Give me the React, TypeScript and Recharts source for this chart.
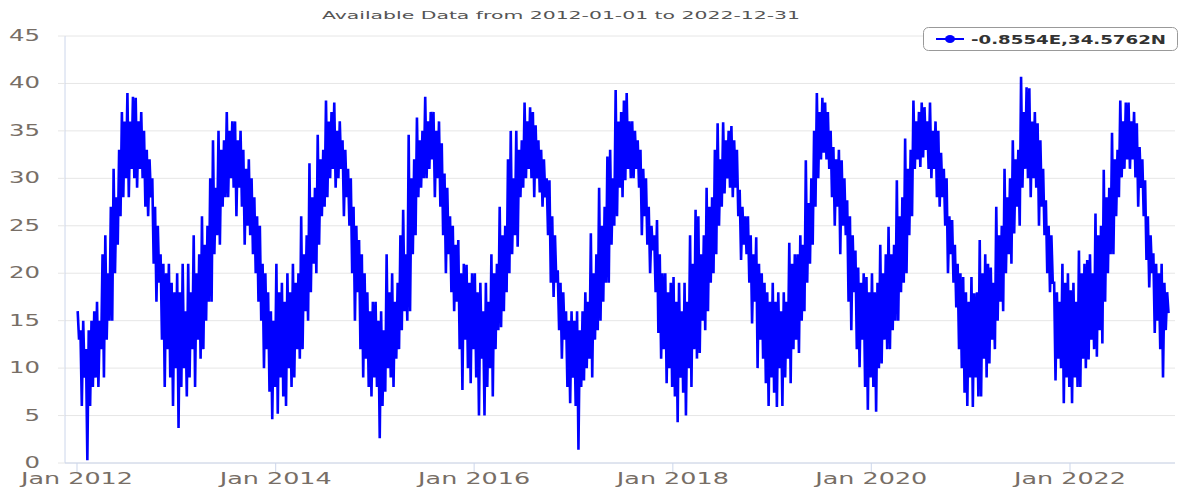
import React from "react";
import { LineChart, Line, XAxis, YAxis, CartesianGrid } from "recharts";

// values: 6 samples per month (Jan..Dec), alternating highs and lows
const years = [2012, 2013, 2014, 2015, 2016, 2017, 2018, 2019, 2020, 2021, 2022];

const y2012 = [
  16, 13, 14, 6, 15, 9, 12, 0.3, 14, 6, 15, 8, 16, 9, 17, 8, 15, 12, 22, 9, 24, 13, 20, 15,
  27, 15, 31, 20, 28, 23, 33, 26, 37, 28, 36, 30, 39, 28, 36, 31, 38.6, 30, 38.5, 29, 36, 31, 37, 30,
  35, 27, 33, 26, 32, 28, 30, 21, 27, 17, 25, 19, 22, 13, 21, 8, 20, 12, 21, 9, 19, 6, 18, 10,
];
const y2013 = [
  20, 3.7, 18, 8, 21, 10, 16, 7, 21, 9, 18, 12, 24, 8, 20, 13, 22, 11, 26, 12, 23, 15, 25, 17,
  30, 17, 34, 22, 29, 24, 35, 23, 33, 27, 34, 28, 37, 28, 35, 30, 36, 29, 36, 26, 34, 29, 35, 27,
  33, 23, 31, 25, 32, 24, 30, 22, 28, 20, 26, 17, 25, 15, 21, 10, 20, 12, 18, 7.5, 16, 4.6, 15, 8,
];
const y2014 = [
  21, 5.2, 18, 9, 19, 7, 17, 6, 20, 10, 18, 8, 21, 9, 19, 12, 20, 11, 26, 12, 22, 16, 24, 15,
  31.6, 18, 28, 21, 29, 20, 34.6, 23, 32, 26, 33, 27, 38.2, 28, 36, 30, 37, 31, 38, 29, 35, 30, 36, 31,
  34, 26, 33, 28, 31, 25, 30, 20, 27, 15, 25, 18, 23.5, 12, 22, 9, 20, 11, 18, 8, 16, 7, 17, 9,
];
const y2015 = [
  17, 8, 15, 2.6, 16, 6, 14, 7.5, 22, 10, 18, 9, 20, 8, 17, 11, 19, 12, 24, 14, 26.7, 16, 22, 15,
  34.6, 16, 30, 22, 32, 24, 36.4, 28, 34, 29, 35, 30, 38.6, 30, 36, 31, 37, 32, 37, 28, 35, 30, 36, 27,
  33.7, 24, 30.5, 20, 29, 22, 26, 18, 25, 16, 23, 17, 23.5, 12, 20, 7.7, 21, 13, 20.9, 10, 19, 8.4, 20, 12,
];
const y2016 = [
  20, 9, 18, 5, 19, 11, 16, 5, 19, 8, 17, 10, 22, 7, 20, 12, 21, 14, 27, 14.3, 24, 16, 25, 18,
  32, 20, 35, 22, 30, 24, 35, 22.8, 33, 28, 34, 29, 38, 30, 36, 31, 37.5, 30, 37, 28, 35.6, 30, 34, 28.5,
  33, 27, 32, 28, 30, 24, 29.8, 19, 26, 17.5, 24, 19, 20.3, 14, 19, 11, 18, 13, 16, 8, 15, 6.3, 16, 9,
];
const y2017 = [
  15, 6, 16, 1.4, 14, 8, 16, 8.7, 18, 10, 17, 11, 24.2, 9, 20, 13, 22, 14, 29, 15, 25, 17, 27, 19,
  32.3, 19, 33, 23, 30, 25, 39.3, 26, 36, 29, 37, 28, 38.2, 29.8, 39, 31, 36, 30, 36, 30, 35, 31, 34, 29,
  33, 24, 31, 26, 30, 23, 27, 20, 25, 22.4, 24, 18, 25.6, 13.7, 22, 11, 20, 12, 20, 8.4, 18, 10, 19, 8,
];
const y2018 = [
  19.6, 7, 17, 4.3, 19, 9, 16, 7.4, 19, 5, 17, 10, 24, 8, 21, 12, 26.7, 11, 26, 11.6, 22, 15, 24, 14,
  29, 16, 27, 19, 28, 20, 33, 22, 35.8, 25, 32, 27, 35.9, 28.4, 34, 30, 35, 29, 35.5, 28, 34, 29, 33, 26,
  28.8, 21.4, 27, 23, 26, 22, 26, 19, 24, 14.7, 22, 17, 23.8, 10, 21, 13, 20, 11, 19, 8.4, 18, 6, 17, 9,
];
const y2019 = [
  19, 7.4, 17, 5.9, 18, 10, 16, 6, 18, 9, 17, 11, 23.2, 8.4, 21, 12, 22, 13, 22, 11.6, 24, 15, 23, 16,
  31.9, 19, 27.4, 21, 30, 23, 35, 27, 39, 30, 37, 32, 38.5, 32.7, 38, 32, 37, 31, 35, 28, 33.3, 25, 32, 27,
  33, 22, 31.9, 25, 30, 24, 27.7, 17, 26, 14, 24, 18, 22.4, 12, 20.6, 10.1, 19, 13, 20, 8, 19.6, 5.6, 18, 9,
];
const y2020 = [
  20, 8, 18, 5.4, 19, 10, 23, 10.5, 20, 13, 22, 12, 24.9, 12, 22, 14, 23, 15, 29.8, 15, 26, 18, 28, 19,
  34.2, 20, 31, 24, 33, 26, 38.2, 31, 36, 32, 37, 31.2, 38, 32.2, 37.5, 33, 36, 31, 38, 30, 35, 31, 36, 28,
  35, 27, 32.7, 28, 31, 25, 30, 20, 26, 22, 25.6, 19, 23, 16.4, 21, 12, 20, 10, 19.6, 7.4, 18, 6, 17, 9,
];
const y2021 = [
  19.6, 5.9, 17.9, 9, 18, 7, 23.5, 7, 20, 11, 22, 9, 21, 10.5, 20.6, 13, 19, 12, 27, 15, 24, 17, 25, 16,
  31, 20, 28, 22, 30, 21, 34, 24.2, 32, 27, 33, 25, 40.7, 29, 37, 31, 39.6, 30, 39.5, 28, 36, 30, 37, 29,
  35.8, 25, 34, 27, 31, 24, 27.7, 20, 25, 18, 24, 19, 19, 8.7, 18, 11, 17, 10, 21, 6.3, 19, 9, 20, 8,
];
const y2022 = [
  18.2, 6.3, 19, 9, 17, 8, 22.4, 8, 20, 11, 21, 10, 21.4, 10.9, 22, 13, 20, 12, 26.3, 11.2, 24, 14, 25, 12.6,
  30.9, 17, 28, 20, 29, 22, 34.8, 22, 32, 26, 33, 28, 38.2, 30.1, 36, 31, 38, 32, 38, 31, 36, 32, 37, 30.1,
  35.8, 27, 33.3, 29, 32, 26, 29.8, 21.4, 26, 18.5, 24, 20, 22.1, 13.7, 21, 15, 20, 12, 21, 9, 19, 14, 18, 15.8,
];

const yearValues = [y2012, y2013, y2014, y2015, y2016, y2017, y2018, y2019, y2020, y2021, y2022];

const tickYears = [2012, 2014, 2016, 2018, 2020, 2022];
const yTicks = [0, 5, 10, 15, 20, 25, 30, 35, 40, 45];

const seriesName = "-0.8554E,34.5762N";
const title = "Available Data from 2012-01-01 to 2022-12-31";

const DAY = 86400000;
const T0 = Date.UTC(2012, 0, 1);

const data = yearValues.flatMap((vals, k) => {
  const start = Date.UTC(years[k], 0, 1);
  const end = Date.UTC(years[k] + 1, 0, 1);
  return vals.map((v, i) => ({
    t: start + ((i + 0.5) / vals.length) * (end - start),
    v,
  }));
});

const font = "'DejaVu Sans', Verdana, sans-serif";
const labelColor = "#776e66";
const months = ["Jan", "Feb", "Mar", "Apr", "May", "Jun", "Jul", "Aug", "Sep", "Oct", "Nov", "Dec"];

const YTick = ({ x, y, payload }: any) => {
  const label = String(payload.value);
  return (
    <text
      x={x}
      y={y}
      dy={5}
      textAnchor="end"
      fontSize={15}
      fontFamily={font}
      fill={labelColor}
      textLength={label.length * 15.5}
      lengthAdjust="spacingAndGlyphs"
    >
      {label}
    </text>
  );
};

const XTick = ({ x, y, payload }: any) => {
  const d = new Date(payload.value);
  const label = `${months[d.getUTCMonth()]} ${d.getUTCFullYear()}`;
  return (
    <text
      x={x}
      y={y}
      dy={10}
      textAnchor="middle"
      fontSize={15}
      fontFamily={font}
      fill={labelColor}
      textLength={112}
      lengthAdjust="spacingAndGlyphs"
    >
      {label}
    </text>
  );
};

export default function App() {
  return (
    <div style={{ position: "absolute", left: 0, top: 0, width: 1179, height: 490, background: "#fff" }}>
      <LineChart
        width={1179}
        height={490}
        data={data}
        margin={{ top: 36, right: 4, left: 0, bottom: 0 }}
      >
        <CartesianGrid vertical={false} stroke="#e6e6e6" />
        <XAxis
          dataKey="t"
          type="number"
          scale="time"
          domain={[T0 - 44.1 * DAY, T0 + 4039.3 * DAY]}
          ticks={tickYears.map((yr) => Date.UTC(yr, 0, 1))}
          tick={<XTick />}
          height={27}
          tickSize={9}
          tickMargin={2}
          axisLine={{ stroke: "#ccd6eb" }}
          tickLine={{ stroke: "#ccd6eb" }}
          allowDataOverflow
        />
        <YAxis
          domain={[0, 45]}
          ticks={yTicks}
          width={65}
          tick={<YTick />}
          tickSize={7}
          tickMargin={18}
          axisLine={{ stroke: "#ccd6eb" }}
          tickLine={{ stroke: "#e6e6e6" }}
        />
        <Line
          type="linear"
          dataKey="v"
          name={seriesName}
          stroke="#0000ff"
          strokeWidth={2.6}
          dot={false}
          isAnimationActive={false}
        />
      </LineChart>
      <svg
        width={1179}
        height={490}
        style={{ position: "absolute", left: 0, top: 0, pointerEvents: "none" }}
      >
        <text
          x={561}
          y={19}
          textAnchor="middle"
          fontSize={11}
          fontFamily={font}
          fill="#555"
          textLength={478}
          lengthAdjust="spacingAndGlyphs"
        >
          {title}
        </text>
        <rect x={923.5} y={27.5} width={254} height={23} rx={5} fill="#fff" stroke="#999" />
        <line x1={936} y1={39} x2={964} y2={39} stroke="#0000ff" strokeWidth={2} />
        <ellipse cx={950} cy={39} rx={5} ry={4} fill="#0000ff" />
        <text
          x={971}
          y={44}
          fontSize={12.5}
          fontWeight="bold"
          fontFamily={font}
          fill="#333"
          textLength={195}
          lengthAdjust="spacingAndGlyphs"
        >
          {seriesName}
        </text>
      </svg>
    </div>
  );
}
